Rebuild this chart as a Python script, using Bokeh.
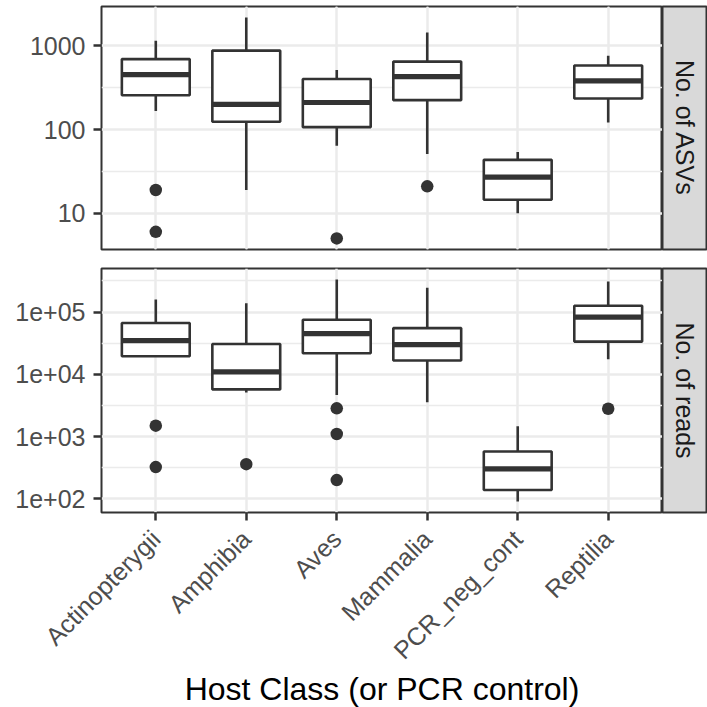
import math
from bokeh.plotting import figure
from bokeh.models import FixedTicker, Range1d, Grid, Title
from bokeh.layouts import row, column
from bokeh.embed import file_html
from bokeh.resources import INLINE
from bokeh.core.properties import value

categories = ["Actinopterygii", "Amphibia", "Aves", "Mammalia", "PCR_neg_cont", "Reptilia"]

# Panel 1: No. of ASVs (box-plot statistics per category)
asv_low = [167, 19, 64, 51, 10, 122]
asv_q1 = [258, 124, 107, 225, 14.5, 236]
asv_med = [454, 200, 211, 430, 27, 382]
asv_q3 = [697, 881, 403, 651, 43.5, 585]
asv_high = [1156, 2188, 515, 1452, 54, 762]
asv_out_cat = ["Actinopterygii", "Actinopterygii", "Aves", "Mammalia"]
asv_out_val = [19, 6, 5, 21]
asv_ticks = [10, 100, 1000]
asv_tick_labels = ["10", "100", "1000"]

# Panel 2: No. of reads
reads_low = [19500, 5130, 4650, 3550, 91, 17500]
reads_q1 = [19500, 5730, 21800, 16700, 139, 33600]
reads_med = [34800, 10960, 45100, 30100, 304, 83200]
reads_q3 = [66700, 30800, 75500, 55400, 575, 126500]
reads_high = [159600, 139000, 333000, 245600, 1466, 310000]
reads_out_cat = ["Actinopterygii", "Actinopterygii", "Amphibia", "Aves", "Aves", "Aves", "Reptilia"]
reads_out_val = [1500, 324, 361, 2850, 1100, 200, 2800]
reads_ticks = [1e2, 1e3, 1e4, 1e5]
reads_tick_labels = ["1e+02", "1e+03", "1e+04", "1e+05"]

strip_labels = ["No. of ASVs", "No. of reads"]
x_title = "Host Class (or PCR control)"

FONT = "Liberation Sans"
DARK = "#333333"
GRID = "#EBEBEB"
PANEL_W = 662
STRIP_W = 45


def make_panel(low, q1, med, q3, high, out_cat, out_val, ticks, tick_labels,
               height, btop, bbottom, show_x):
    xs = [i + 1 for i in range(len(categories))]
    allv = low + high + out_val
    lmin, lmax = math.log10(min(allv)), math.log10(max(allv))
    pad = 0.05 * (lmax - lmin)
    xr = Range1d(0.4, len(categories) + 0.6)
    p = figure(width=PANEL_W, height=height, y_axis_type="log",
               x_range=xr,
               y_range=Range1d(10 ** (lmin - pad), 10 ** (lmax + pad)),
               x_axis_location="below" if show_x else None,
               output_backend="svg", toolbar_location=None,
               min_border_left=101, min_border_right=0,
               min_border_top=btop, min_border_bottom=bbottom)
    p.background_fill_color = "white"
    p.border_fill_color = "white"
    p.outline_line_color = DARK
    p.outline_line_width = 2

    yt = FixedTicker(ticks=ticks,
                     minor_ticks=[10 ** (k + 0.5) for k in range(-1, 7)])
    p.yaxis.ticker = yt
    p.ygrid.ticker = yt
    p.ygrid.grid_line_color = GRID
    p.ygrid.grid_line_width = 2.5
    p.ygrid.minor_grid_line_color = GRID
    p.ygrid.minor_grid_line_width = 1.4
    p.yaxis.major_label_overrides = {t: l for t, l in zip(ticks, tick_labels)}
    p.yaxis.major_label_standoff = 8

    xt = FixedTicker(ticks=xs, minor_ticks=[])
    if show_x:
        p.xaxis.ticker = xt
        p.xgrid.ticker = xt
        p.xgrid.grid_line_color = GRID
        p.xgrid.grid_line_width = 2.5
        p.xaxis.major_label_overrides = {x: c for x, c in zip(xs, categories)}
        p.xaxis.major_label_orientation = math.pi / 4
        p.xaxis.major_label_standoff = 14
        p.add_layout(Title(text=x_title, align="center", vertical_align="top",
                           text_font=FONT, text_font_size="32px",
                           text_font_style="normal", text_color="black",
                           standoff=-13), "below")
    else:
        g = Grid(dimension=0, ticker=xt, grid_line_color=GRID, grid_line_width=2.5)
        p.add_layout(g)

    for ax in p.axis:
        ax.axis_line_color = None
        ax.major_tick_line_color = DARK
        ax.major_tick_line_width = 2.5
        ax.major_tick_out = 8
        ax.major_tick_in = 0
        ax.minor_tick_line_color = None
        ax.major_label_text_font = FONT
        ax.major_label_text_font_size = "25px"
        ax.major_label_text_color = "#4D4D4D"

    p.segment(x0=xs, y0=q3, x1=xs, y1=high, line_color=DARK, line_width=2.6)
    p.segment(x0=xs, y0=low, x1=xs, y1=q1, line_color=DARK, line_width=2.6)
    p.vbar(x=xs, width=0.75, bottom=q1, top=q3, fill_color="white",
           line_color=DARK, line_width=2.6)
    p.segment(x0=[x - 0.375 for x in xs], y0=med, x1=[x + 0.375 for x in xs],
              y1=med, line_color=DARK, line_width=5.2)
    ox = [categories.index(c) + 1 for c in out_cat]
    p.scatter(x=ox, y=out_val, size=12.5, fill_color=DARK, line_color=None)
    return p


def make_strip(label, height, btop, bbottom):
    s = figure(width=STRIP_W, height=height, x_range=Range1d(0, 1),
               y_range=Range1d(0, 1), x_axis_location=None, y_axis_location=None,
               output_backend="svg", toolbar_location=None,
               min_border_left=0, min_border_right=0,
               min_border_top=btop, min_border_bottom=bbottom)
    s.grid.visible = False
    s.background_fill_color = "#D9D9D9"
    s.border_fill_color = "white"
    s.outline_line_color = DARK
    s.outline_line_width = 2
    s.text(x=[0.5], y=[0.5], text=[label], angle=-math.pi / 2,
           text_align="center", text_baseline="middle",
           text_font=value(FONT), text_font_size="25px", text_color="#1A1A1A")
    return s


top = make_panel(asv_low, asv_q1, asv_med, asv_q3, asv_high, asv_out_cat,
                 asv_out_val, asv_ticks, asv_tick_labels, 259, 6, 10, False)
bot = make_panel(reads_low, reads_q1, reads_med, reads_q3, reads_high,
                 reads_out_cat, reads_out_val, reads_ticks, reads_tick_labels,
                 448, 9, 195, True)
top_s = make_strip(strip_labels[0], 259, 6, 10)
bot_s = make_strip(strip_labels[1], 448, 9, 195)

layout = column(row(top, top_s), row(bot, bot_s))
open("out.html", "w").write(file_html(layout, INLINE))
